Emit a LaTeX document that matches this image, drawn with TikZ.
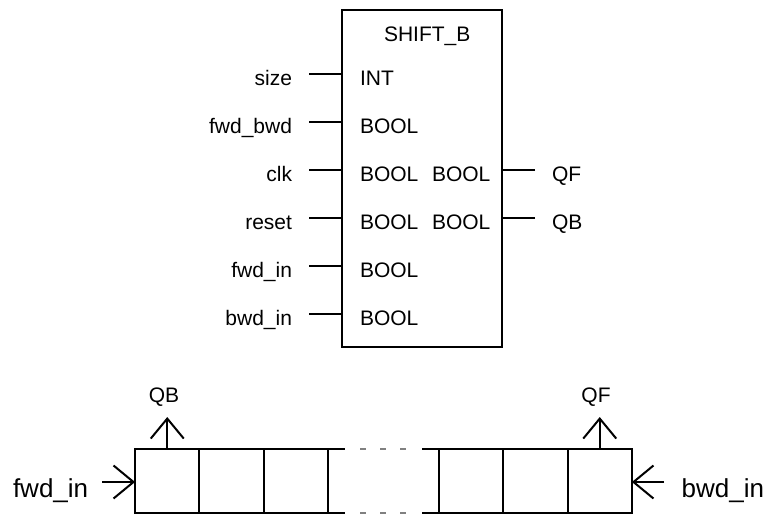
\documentclass[tikz,border=0pt]{standalone}
\usepackage{fontspec}
\setmainfont{Liberation Sans}
\usetikzlibrary{arrows.meta}
\begin{document}
\begin{tikzpicture}[x=1pt,y=-1pt, line width=2pt,
  lbl/.style={inner sep=0pt, font=\fontsize{21}{25}\selectfont},
  big/.style={inner sep=0pt, font=\fontsize{26}{30}\selectfont},
  fblock/.style={draw, minimum width=160pt, minimum height=337pt, outer sep=0pt, inner sep=0pt},
  cell/.style={draw, minimum width=64.3pt, minimum height=64pt, inner sep=0pt, outer sep=0pt},
  barb/.style={-{Straight Barb[length=20pt,width=33pt]}},
  gap/.style={gray, line width=1.5pt, dash pattern=on 6pt off 14pt}]
\useasboundingbox (0,0) rectangle (765,514);
% function block
\node[fblock] (fb) at (422,178.5) {};
\node[lbl, anchor=base west] (title) at (383,41) {SHIFT\_B};
\foreach \t/\ty [count=\i from 0] in {size/INT, fwd\_bwd/BOOL, clk/BOOL, reset/BOOL, fwd\_in/BOOL, bwd\_in/BOOL}{
  \node[lbl, anchor=base east] (in\i) at (293,74.3+48*\i+11) {\t};
  \node[lbl, anchor=base west] (ty\i) at (359,74.3+48*\i+11) {\ty};
  \draw (309,74.3+48*\i) coordinate (p\i) -- (p\i -| fb.west);
}
\foreach \o [count=\j from 2] in {QF, QB}{
  \node[lbl, anchor=base west] (oty\j) at (431,74.3+48*\j+11) {BOOL};
  \node[lbl, anchor=base west] (out\j) at (551,74.3+48*\j+11) {\o};
  \draw (535,74.3+48*\j) coordinate (q\j) -- (q\j -| fb.east);
}
% shift register
\node[cell] (L1) at (167.25,481) {};
\node[cell] (L2) at (231.55,481) {};
\node[cell] (L3) at (295.85,481) {};
\node[cell] (R1) at (471.15,481) {};
\node[cell] (R2) at (535.45,481) {};
\node[cell] (R3) at (599.75,481) {};
\draw (L3.north east) -- ++(17,0);
\draw (L3.south east) -- ++(17,0);
\draw (R1.north west) -- ++(-17,0);
\draw (R1.south west) -- ++(-17,0);
\draw[gap] (360,449) -- (406,449);
\draw[gap] (360,513) -- (406,513);
% outputs
\coordinate (qbt) at (167.25,417);
\coordinate (qft) at (599.75,417);
\draw[barb] (L1.north) -- (qbt);
\draw[barb] (R3.north) -- (qft);
\node[lbl, anchor=base] (qb) at (164,402) {QB};
\node[lbl, anchor=base] (qf) at (596,402) {QF};
% inputs
\node[big, anchor=base west] (fin) at (12,497) {fwd\_in};
\node[big, anchor=base east] (bin) at (765,497) {bwd\_in};
\coordinate (fs) at (102,482);
\coordinate (bs) at (664,482);
\draw[barb] (fs) -- (fs -| L1.west);
\draw[barb] (bs) -- (bs -| R3.east);
\end{tikzpicture}
\end{document}
